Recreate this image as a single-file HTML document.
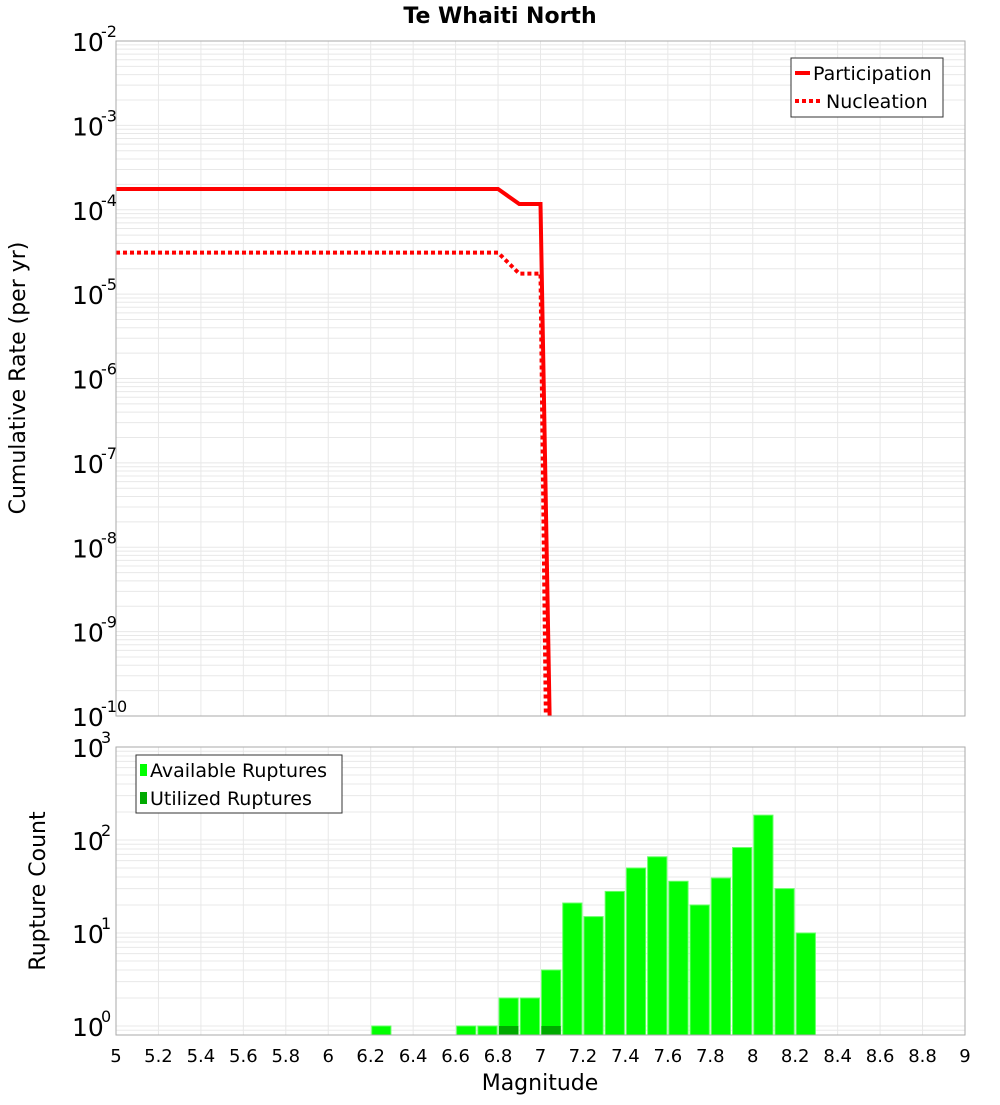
<!DOCTYPE html>
<html><head><meta charset="utf-8"><style>
body{margin:0;background:#fff;}
svg text{font-family:"DejaVu Sans","Liberation Sans",sans-serif;}
</style></head><body>
<svg id="c" width="1000" height="1100" xmlns="http://www.w3.org/2000/svg">
<text x="500" y="23" text-anchor="middle" font-size="22" font-weight="bold">Te Whaiti North</text>
<g id="topg"></g>
<g id="botg"></g>
<text transform="translate(25,378) rotate(-90)" text-anchor="middle" font-size="22">Cumulative Rate (per yr)</text>
<text transform="translate(45,891) rotate(-90)" text-anchor="middle" font-size="22">Rupture Count</text>
<text x="540" y="1090" text-anchor="middle" font-size="22">Magnitude</text>
</svg>
<script>
const partMag=[5,6.8,6.9,7.0,7.05];
const partRate=[1.76e-4,1.76e-4,1.17e-4,1.17e-4,1e-11];
const nuclMag=[5,6.8,6.9,7.0,7.03];
const nuclRate=[3.1e-5,3.1e-5,1.75e-5,1.75e-5,1e-11];
const binMag=[6.2,6.6,6.7,6.8,6.9,7.0,7.1,7.2,7.3,7.4,7.5,7.6,7.7,7.8,7.9,8.0,8.1,8.2];
const availCount=[1,1,1,2,2,4,21,15,28,50,66,36,20,39,83,185,30,10];
const usedMag=[6.8,7.0];
const usedCount=[1,1];
const xTicks=[5,5.2,5.4,5.6,5.8,6,6.2,6.4,6.6,6.8,7,7.2,7.4,7.6,7.8,8,8.2,8.4,8.6,8.8,9];

const NS="http://www.w3.org/2000/svg";
const L=116,R=965;
const X=m=>L+(m-5)/4*(R-L);
const T0=41,T1=716, B0=747,B1=1035;
const Yt=v=>T0+(-2-Math.log10(v))/8*(T1-T0);
const Yb=v=>1026-Math.log10(v)*93;
function mk(p,tag,a){const e=document.createElementNS(NS,tag);for(const k in a)e.setAttribute(k,a[k]);p.appendChild(e);return e;}
const topG=document.getElementById('topg'),botG=document.getElementById('botg');
const svgRoot=document.getElementById('c');
const defsEl=mk(svgRoot,'defs',{});
const cp=mk(defsEl,'clipPath',{id:'ct'});mk(cp,'rect',{x:L,y:T0,width:R-L,height:T1-T0});

function grid(g,y0,y1,dmin,dmax,Y){
  for(let d=dmin;d<dmax;d++)for(let k=1;k<10;k++){const y=Y(k*Math.pow(10,d));if(y<y0-0.5||y>y1)continue;
    const l=mk(g,'line',{x1:L,x2:R,y1:y,y2:y,stroke:'#e8e8e8','stroke-width':1});
    
    }
  xTicks.forEach(m=>{const l=mk(g,'line',{x1:X(m),x2:X(m),y1:y0,y2:y1,stroke:'#e8e8e8','stroke-width':1});
    
    });
}
grid(topG,T0,T1,-10,-2,Yt);
grid(botG,B0,B1,-1,3,Yb);

function line(mags,vals,dash,name){
  const pts=mags.map((m,i)=>X(m)+','+Yt(vals[i])).join(' ');
  const p=mk(topG,'polyline',{points:pts,fill:'none',stroke:'#ff0000','stroke-width':4,'clip-path':'url(#ct)'});
  if(dash)p.setAttribute('stroke-dasharray','4,3');
  
  
}
line(partMag,partRate,false,'participation-line');
line(nuclMag,nuclRate,true,'nucleation-line');
const tb=mk(topG,'rect',{x:L,y:T0,width:R-L,height:T1-T0,fill:'none',stroke:'#aaa'});



for(let e=-2;e>=-10;e--){const y=Yt(Math.pow(10,e));
  const t=mk(topG,'text',{x:72,y:y+10,'font-size':25});t.textContent='10';
  
  
  const s=mk(topG,'text',{x:101,y:y-4,'font-size':16});s.textContent=String(e);
  
  }
const lg=mk(topG,'g',{});


mk(lg,'rect',{x:791,y:58,width:152,height:59,fill:'#fff',stroke:'#333'});
mk(lg,'line',{x1:795,x2:810,y1:73,y2:73,stroke:'#f00','stroke-width':4});
mk(lg,'line',{x1:795,x2:821,y1:101,y2:101,stroke:'#f00','stroke-width':4,'stroke-dasharray':'4,3'});
let t1=mk(lg,'text',{x:813,y:80,'font-size':19});t1.textContent='Participation';


let t2=mk(lg,'text',{x:826,y:108,'font-size':19});t2.textContent='Nucleation';



const bw=X(5.1)-X(5);
binMag.forEach((m,i)=>{const y=Yb(availCount[i]);
  const b=mk(botG,'rect',{x:X(m)+1,y:y,width:bw-2,height:B1-y,fill:'#00ff00',stroke:'#66ff66','stroke-width':1});
  
  });
usedMag.forEach((m,i)=>{const y=Yb(usedCount[i]);
  const b=mk(botG,'rect',{x:X(m)+1,y:y,width:bw-2,height:B1-y,fill:'#00aa00'});
  
  });
const bb=mk(botG,'rect',{x:L,y:B0,width:R-L,height:B1-B0,fill:'none',stroke:'#aaa'});


for(let e=0;e<=3;e++){const y=Yb(Math.pow(10,e));
  const t=mk(botG,'text',{x:72,y:y+10,'font-size':25});t.textContent='10';
  
  
  const s=mk(botG,'text',{x:101,y:y-4,'font-size':16});s.textContent=String(e);
  
  }
xTicks.forEach(m=>{const t=mk(botG,'text',{x:X(m),y:1062,'font-size':18,'text-anchor':'middle'});
  t.textContent=String(m);
  
  });
const lg2=mk(botG,'g',{});


mk(lg2,'rect',{x:136,y:755,width:206,height:58,fill:'#fff',stroke:'#333'});
mk(lg2,'rect',{x:140,y:764,width:7,height:12,fill:'#00ff00'});
mk(lg2,'rect',{x:140,y:792,width:7,height:12,fill:'#00aa00'});
let u1=mk(lg2,'text',{x:150,y:777,'font-size':19});u1.textContent='Available Ruptures';


let u2=mk(lg2,'text',{x:150,y:805,'font-size':19});u2.textContent='Utilized Ruptures';


</script>
</body></html>
